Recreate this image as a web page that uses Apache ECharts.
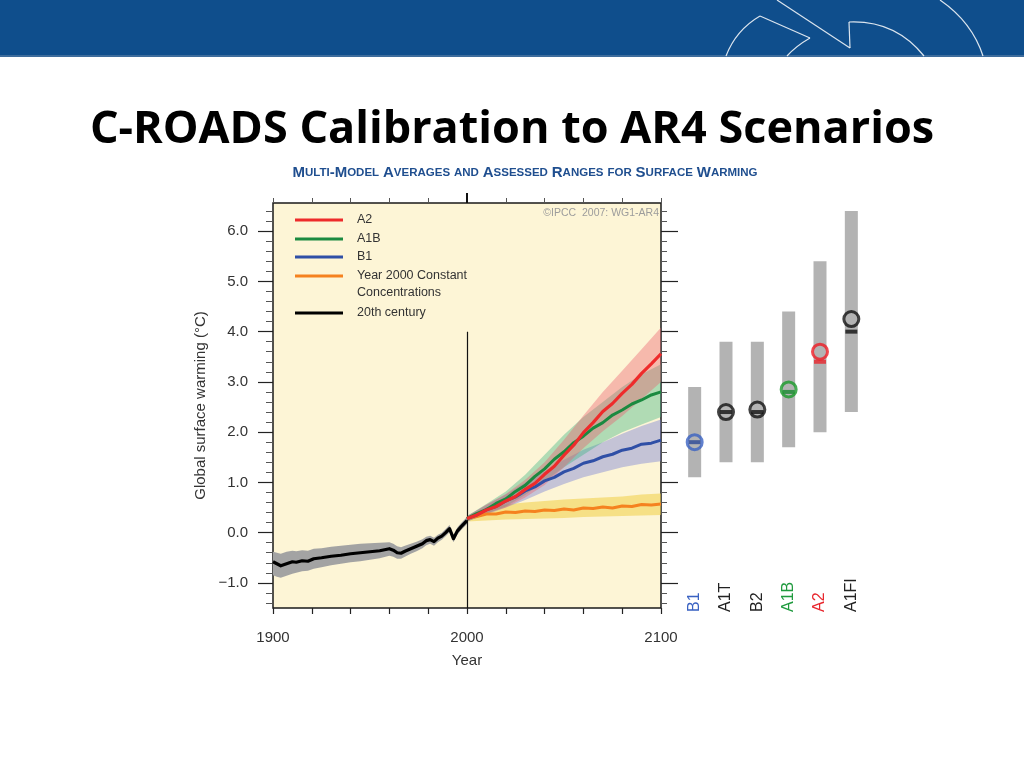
<!DOCTYPE html>
<html>
<head>
<meta charset="utf-8">
<script src="https://cdn.jsdelivr.net/npm/echarts@6/dist/echarts.min.js"></script>
<style>
html,body{margin:0;padding:0;background:#fff;}
#chart{width:1024px;height:768px;}
</style>
</head>
<body>
<div id="chart"></div>
<script>
// ---------------- DATA ----------------
const histYears = [1900,1902,1904,1907,1910,1912,1915,1918,1921,1925,1930,1935,1940,1945,1950,1955,1960,1962,1964,1966,1968,1971,1974,1977,1979,1981,1983,1985,1987,1989,1991,1992,1993,1995,1997,1999,2000];
const histMean  = [-0.58,-0.62,-0.66,-0.62,-0.58,-0.59,-0.56,-0.57,-0.52,-0.50,-0.47,-0.45,-0.42,-0.40,-0.38,-0.36,-0.32,-0.35,-0.40,-0.41,-0.37,-0.32,-0.27,-0.22,-0.16,-0.14,-0.18,-0.11,-0.07,0.00,0.08,-0.02,-0.12,0.03,0.12,0.20,0.24];
const histLow   = [-0.85,-0.88,-0.90,-0.86,-0.82,-0.80,-0.77,-0.76,-0.72,-0.69,-0.65,-0.62,-0.59,-0.57,-0.54,-0.51,-0.46,-0.48,-0.52,-0.52,-0.48,-0.42,-0.37,-0.31,-0.25,-0.22,-0.26,-0.19,-0.14,-0.07,0.01,-0.09,-0.19,-0.04,0.05,0.13,0.17];
const histHigh  = [-0.38,-0.40,-0.42,-0.38,-0.36,-0.37,-0.35,-0.36,-0.32,-0.31,-0.28,-0.26,-0.24,-0.22,-0.21,-0.20,-0.19,-0.22,-0.27,-0.29,-0.26,-0.22,-0.18,-0.13,-0.08,-0.06,-0.10,-0.04,0.00,0.07,0.15,0.05,-0.05,0.10,0.19,0.27,0.31];

const projYears = [2000,2005,2010,2015,2020,2025,2030,2035,2040,2045,2050,2055,2060,2065,2070,2075,2080,2085,2090,2095,2100];
const a2Mean    = [0.28,0.35,0.45,0.52,0.63,0.72,0.86,0.98,1.16,1.32,1.54,1.74,1.99,2.19,2.41,2.57,2.77,2.95,3.17,3.36,3.56];
const a1bMean   = [0.28,0.38,0.46,0.58,0.67,0.82,0.94,1.12,1.27,1.46,1.61,1.79,1.92,2.08,2.19,2.34,2.44,2.56,2.64,2.74,2.80];
const b1Mean    = [0.28,0.35,0.46,0.52,0.63,0.71,0.83,0.91,1.03,1.10,1.21,1.28,1.38,1.43,1.51,1.56,1.64,1.68,1.76,1.78,1.84];
const constMean = [0.28,0.32,0.37,0.37,0.41,0.40,0.43,0.42,0.45,0.44,0.47,0.45,0.49,0.48,0.51,0.49,0.53,0.52,0.56,0.55,0.57];

const bandYears   = [2000,2010,2020,2030,2040,2050,2060,2070,2080,2090,2100];
const a2Low       = [0.22,0.38,0.50,0.70,0.95,1.30,1.68,2.02,2.32,2.66,3.00];
const a2High      = [0.32,0.56,0.77,1.05,1.40,1.85,2.33,2.80,3.22,3.65,4.08];
const a1bLow      = [0.22,0.38,0.52,0.75,1.02,1.30,1.55,1.80,2.00,2.15,2.30];
const a1bHigh     = [0.33,0.57,0.82,1.15,1.55,1.95,2.30,2.60,2.90,3.15,3.35];
const b1Low       = [0.22,0.36,0.50,0.65,0.82,0.97,1.10,1.20,1.30,1.37,1.42];
const b1High      = [0.33,0.55,0.76,1.00,1.22,1.45,1.65,1.80,1.97,2.12,2.25];
const constLow    = [0.22,0.24,0.26,0.27,0.28,0.29,0.31,0.32,0.33,0.34,0.35];
const constHigh   = [0.33,0.50,0.56,0.60,0.63,0.66,0.68,0.70,0.72,0.76,0.78];

const splitYear = 2000;
const splitLineTop = 4.0;

const scenarios    = ['B1','A1T','B2','A1B','A2','A1FI'];
const rangeLow     = [1.1,1.4,1.4,1.7,2.0,2.4];
const rangeHigh    = [2.9,3.8,3.8,4.4,5.4,6.4];
const bestEstimate = [1.8,2.4,2.4,2.8,3.4,4.0];
const croadsValue  = [1.8,2.4,2.45,2.85,3.6,4.25];

const yMajorTicks = [-1,0,1,2,3,4,5,6];
const yMinorTicks = [-1.4,-1.2,-0.8,-0.6,-0.4,-0.2,0.2,0.4,0.6,0.8,1.2,1.4,1.6,1.8,2.2,2.4,2.6,2.8,3.2,3.4,3.6,3.8,4.2,4.4,4.6,4.8,5.2,5.4,5.6,5.8,6.2,6.4];
const xLabelYears = [1900,2000,2100];

// ---------------- STYLE ----------------
const FONT = 'Liberation Sans, Arial, sans-serif';
const labelColors  = ['#3a62c2','#222','#222','#1f9a3e','#e8262d','#222'];
const circleColors = ['#3a62c2','#111','#111','#1a9a2a','#ee1c24','#111'];
const dashColors   = ['#2a4796','#111','#111','#188a30','#e8262d','#111'];
const Y_MIN = -1.5, Y_MAX = 6.56;

function pairs(xs, ys){ return xs.map((x,i)=>[x, ys[i]]); }

function bandSeries(name, xs, lo, hi, fill, z){
  return {
    type:'custom', name: name, xAxisIndex:0, yAxisIndex:0, z: z, silent:true,
    data:[[xs[0], lo[0]]],
    renderItem: function(params, api){
      const pts = [];
      for (let i=0;i<xs.length;i++) pts.push(api.coord([xs[i], hi[i]]));
      for (let i=xs.length-1;i>=0;i--) pts.push(api.coord([xs[i], lo[i]]));
      return {type:'polygon', shape:{points:pts}, style:{fill:fill}};
    }
  };
}
function lineSeries(name, xs, ys, color, width, z){
  return {type:'line', name:name, xAxisIndex:0, yAxisIndex:0, data:pairs(xs,ys),
    showSymbol:false, symbol:'none', smooth:false, z:z, silent:true,
    lineStyle:{color:color, width:width, join:'round'}};
}

const axisBase = {axisLine:{show:false, onZero:false}, splitLine:{show:false}};

const option = {
  animation:false,
  backgroundColor:'#ffffff',
  grid:[
    {left:273, top:203, width:388, height:405, show:true, backgroundColor:'#fdf5d6', borderColor:'#1a1a1a', borderWidth:1.5},
    {left:679, top:203, width:188, height:405, show:false}
  ],
  xAxis:[
    Object.assign({gridIndex:0, type:'value', min:1900, max:2100, interval:20, position:'bottom',
      axisTick:{length:6, lineStyle:{color:'#222', width:1.2}},
      axisLabel:{customValues:xLabelYears, fontSize:15, color:'#333', margin:22, fontFamily:FONT,
        formatter:function(v){ return String(v); }},
      name:'Year', nameLocation:'middle', nameGap:45, nameTextStyle:{fontSize:15, color:'#333', fontFamily:FONT}}, axisBase),
    Object.assign({gridIndex:0, type:'value', min:1900, max:2100, interval:20, position:'top',
      axisTick:{length:5, lineStyle:{color:'#555', width:1}}, axisLabel:{show:false}}, axisBase),
    Object.assign({gridIndex:0, type:'value', min:1900, max:2100, position:'top',
      axisTick:{customValues:[2000], length:10, lineStyle:{color:'#111', width:2}}, axisLabel:{show:false}}, axisBase),
    Object.assign({gridIndex:1, type:'category', data:scenarios.map((s,i)=>({value:s, textStyle:{color:labelColors[i]}})),
      position:'bottom', axisTick:{show:false},
      axisLabel:{rotate:90, inside:true, margin:-4, fontSize:16, fontFamily:FONT, interval:0}}, axisBase)
  ],
  yAxis:[
    Object.assign({gridIndex:0, type:'value', min:Y_MIN, max:Y_MAX, position:'left',
      axisTick:{customValues:yMajorTicks, length:15, lineStyle:{color:'#222', width:1.2}},
      axisLabel:{customValues:yMajorTicks, margin:25, fontSize:15, color:'#333', fontFamily:FONT,
        formatter:function(v){ return (v<0 ? '\u2212' : '') + Math.abs(v).toFixed(1); }},
      name:'Global surface warming (\u00B0C)', nameLocation:'middle', nameRotate:90, nameGap:65,
      nameTextStyle:{fontSize:15, color:'#333', fontFamily:FONT}}, axisBase),
    Object.assign({gridIndex:0, type:'value', min:Y_MIN, max:Y_MAX, position:'left',
      axisTick:{customValues:yMinorTicks, length:7, lineStyle:{color:'#555', width:1}}, axisLabel:{show:false}}, axisBase),
    Object.assign({gridIndex:0, type:'value', min:Y_MIN, max:Y_MAX, position:'right',
      axisTick:{customValues:yMajorTicks, length:17, lineStyle:{color:'#222', width:1.2}}, axisLabel:{show:false}}, axisBase),
    Object.assign({gridIndex:0, type:'value', min:Y_MIN, max:Y_MAX, position:'right',
      axisTick:{customValues:yMinorTicks, length:6, lineStyle:{color:'#555', width:1}}, axisLabel:{show:false}}, axisBase),
    Object.assign({gridIndex:1, type:'value', min:Y_MIN, max:Y_MAX, show:false}, axisBase)
  ],
  series:[
    bandSeries('20th century range', histYears, histLow, histHigh, '#a3a3a3', 2),
    bandSeries('Constant range', bandYears, constLow, constHigh, 'rgba(240,205,70,0.55)', 2),
    bandSeries('B1 range', bandYears, b1Low, b1High, 'rgba(110,120,215,0.40)', 2),
    bandSeries('A1B range', bandYears, a1bLow, a1bHigh, 'rgba(60,180,130,0.40)', 2),
    bandSeries('A2 range', bandYears, a2Low, a2High, 'rgba(235,95,110,0.40)', 2),
    lineSeries('Year 2000 Constant Concentrations', projYears, constMean, '#f5821f', 3, 5),
    lineSeries('B1', projYears, b1Mean, '#2f4fa6', 3, 5),
    lineSeries('A1B', projYears, a1bMean, '#1b8a40', 3, 5),
    Object.assign(lineSeries('A2', projYears, a2Mean, '#ee2b2b', 3.2, 6), {
      markLine:{silent:true, symbol:['none','none'], label:{show:false},
        lineStyle:{color:'#111', width:1.2, type:'solid'},
        data:[[{coord:[splitYear, Y_MIN]},{coord:[splitYear, splitLineTop]}]]}
    }),
    lineSeries('20th century', histYears, histMean, '#000000', 3.2, 7),
    {
      type:'custom', name:'Assessed range', xAxisIndex:3, yAxisIndex:4, z:2, silent:true,
      data: scenarios.map((s,i)=>[i, rangeLow[i], rangeHigh[i]]),
      renderItem:function(params, api){
        const lo = api.coord([api.value(0), api.value(1)]);
        const hi = api.coord([api.value(0), api.value(2)]);
        const w = 13;
        return {type:'rect', shape:{x:lo[0]-w/2, y:hi[1], width:w, height:lo[1]-hi[1]}, style:{fill:'#b3b3b3'}};
      }
    },
    {
      type:'scatter', name:'Best estimate', xAxisIndex:3, yAxisIndex:4, z:4, silent:true,
      symbol:'rect', symbolSize:[12,4],
      data: scenarios.map((s,i)=>({value:[i, bestEstimate[i]], itemStyle:{color:dashColors[i]}}))
    },
    {
      type:'scatter', name:'C-ROADS', xAxisIndex:3, yAxisIndex:4, z:5, silent:true,
      symbol:'circle', symbolSize:15,
      data: scenarios.map((s,i)=>({value:[i, croadsValue[i]], itemStyle:{color:'rgba(0,0,0,0)', borderColor:circleColors[i], borderWidth:3}}))
    }
  ],
  graphic:[
    {type:'rect', shape:{x:0, y:0, width:1024, height:56}, style:{fill:'#0f4e8c'}, z:0},
    {type:'rect', shape:{x:0, y:55, width:1024, height:2}, style:{fill:'#3d6c9c'}, z:0},
    {type:'bezierCurve', shape:{x1:726, y1:56, cpx1:736, cpy1:30, x2:760, y2:16}, style:{stroke:'rgba(255,255,255,0.85)', lineWidth:1.2, fill:null}, z:1},
    {type:'line', shape:{x1:760, y1:16, x2:810, y2:38}, style:{stroke:'rgba(255,255,255,0.85)', lineWidth:1.2}, z:1},
    {type:'bezierCurve', shape:{x1:810, y1:38, cpx1:796, cpy1:46, x2:787, y2:56}, style:{stroke:'rgba(255,255,255,0.85)', lineWidth:1.2, fill:null}, z:1},
    {type:'line', shape:{x1:777, y1:0, x2:850, y2:48}, style:{stroke:'rgba(255,255,255,0.85)', lineWidth:1.2}, z:1},
    {type:'line', shape:{x1:850, y1:48, x2:849, y2:22}, style:{stroke:'rgba(255,255,255,0.85)', lineWidth:1.2}, z:1},
    {type:'bezierCurve', shape:{x1:849, y1:22, cpx1:895, cpy1:20, x2:924, y2:56}, style:{stroke:'rgba(255,255,255,0.85)', lineWidth:1.2, fill:null}, z:1},
    {type:'bezierCurve', shape:{x1:940, y1:0, cpx1:972, cpy1:22, x2:983, y2:56}, style:{stroke:'rgba(255,255,255,0.85)', lineWidth:1.2, fill:null}, z:1},
    {type:'text', x:512, y:130, z:10, style:{text:'C-ROADS Calibration to AR4 Scenarios', font:'bold 45px "Open Sans", sans-serif', fill:'#000', textAlign:'center', textVerticalAlign:'middle'}},
    {type:'text', x:525, y:173, z:10, style:{
      text:'{b|M}{s|ULTI}{b|-M}{s|ODEL} {b|A}{s|VERAGES} {s|AND} {b|A}{s|SSESSED} {b|R}{s|ANGES} {s|FOR} {b|S}{s|URFACE} {b|W}{s|ARMING}',
      textAlign:'center', textVerticalAlign:'middle', fill:'#1f4e8f', font:'bold 14px Liberation Sans',
      rich:{b:{fontSize:15, fontWeight:'bold', fontFamily:FONT, fill:'#1f4e8f'}, s:{fontSize:11.5, fontWeight:'bold', fontFamily:FONT, fill:'#1f4e8f'}}}},
    {type:'text', x:659, y:213, z:10, style:{text:'\u00A9IPCC  2007: WG1-AR4', font:'10.5px Liberation Sans', fill:'#9c9c9c', textAlign:'right', textVerticalAlign:'middle'}},
    {type:'line', z:10, shape:{x1:295, y1:220, x2:343, y2:220}, style:{stroke:'#ee2b2b', lineWidth:3}},
    {type:'text', z:10, x:357, y:220, style:{text:'A2', font:'12.5px Liberation Sans', fill:'#333', textVerticalAlign:'middle'}},
    {type:'line', z:10, shape:{x1:295, y1:239, x2:343, y2:239}, style:{stroke:'#1b8a40', lineWidth:3}},
    {type:'text', z:10, x:357, y:239, style:{text:'A1B', font:'12.5px Liberation Sans', fill:'#333', textVerticalAlign:'middle'}},
    {type:'line', z:10, shape:{x1:295, y1:257, x2:343, y2:257}, style:{stroke:'#2f4fa6', lineWidth:3}},
    {type:'text', z:10, x:357, y:257, style:{text:'B1', font:'12.5px Liberation Sans', fill:'#333', textVerticalAlign:'middle'}},
    {type:'line', z:10, shape:{x1:295, y1:276, x2:343, y2:276}, style:{stroke:'#f5821f', lineWidth:3}},
    {type:'text', z:10, x:357, y:276, style:{text:'Year 2000 Constant', font:'12.5px Liberation Sans', fill:'#333', textVerticalAlign:'middle'}},
    {type:'text', z:10, x:357, y:293, style:{text:'Concentrations', font:'12.5px Liberation Sans', fill:'#333', textVerticalAlign:'middle'}},
    {type:'line', z:10, shape:{x1:295, y1:313, x2:343, y2:313}, style:{stroke:'#000', lineWidth:3}},
    {type:'text', z:10, x:357, y:313, style:{text:'20th century', font:'12.5px Liberation Sans', fill:'#333', textVerticalAlign:'middle'}}
  ]
};

const chart = echarts.init(document.getElementById('chart'), null, {renderer:'canvas'});
chart.setOption(option);
</script>
</body>
</html>
